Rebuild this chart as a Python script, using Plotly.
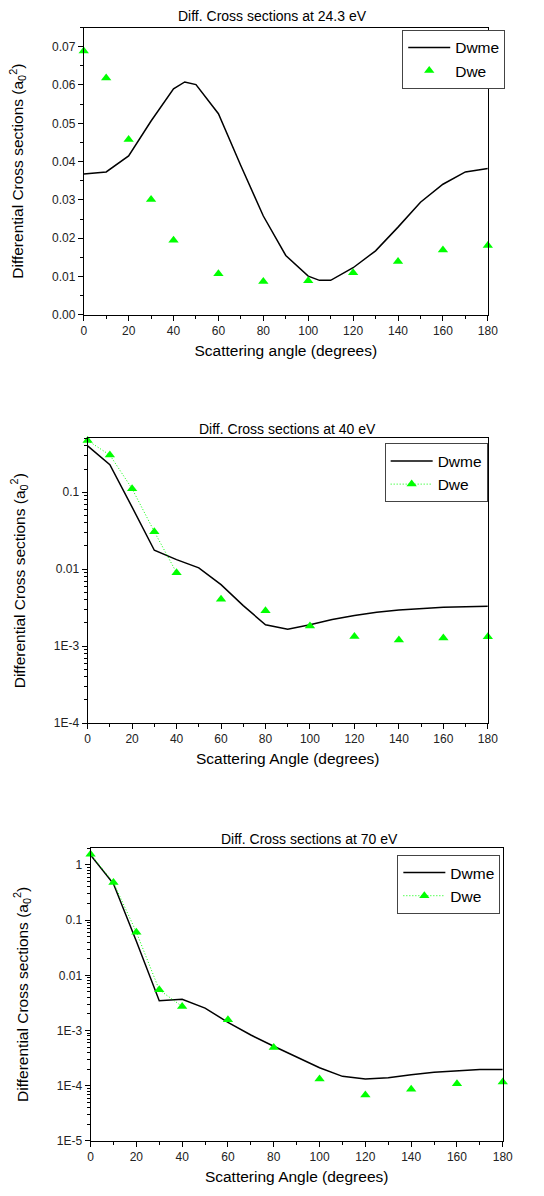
import plotly.graph_objects as go

# ---- data -------------------------------------------------------------
# 24.3 eV
ang_me_1 = [0, 10, 20, 30, 40, 45, 50, 60, 70, 80, 90, 100, 105, 110, 120, 130, 140, 150, 160, 170, 180]
dwme_1 = [0.0368, 0.0373, 0.0415, 0.0506, 0.0590, 0.0608, 0.0601, 0.0525, 0.0389, 0.0258, 0.0155,
          0.0101, 0.0090, 0.0090, 0.0123, 0.0167, 0.0229, 0.0294, 0.0341, 0.0373, 0.0382]
ang_we = [0, 10, 20, 30, 40, 60, 80, 100, 120, 140, 160, 180]
dwe_1 = [0.0689, 0.0618, 0.0458, 0.0301, 0.0195, 0.0107, 0.0087, 0.0089, 0.0110, 0.0139, 0.0169, 0.0181]

# 40 eV
ang_me = [0, 10, 20, 30, 40, 50, 60, 70, 80, 90, 100, 110, 120, 130, 140, 150, 160, 170, 180]
dwme_2 = [0.40, 0.228, 0.064, 0.0176, 0.0133, 0.0104, 0.0063, 0.00336, 0.00189, 0.00166, 0.00189,
          0.00221, 0.00249, 0.00275, 0.00295, 0.00310, 0.00319, 0.00325, 0.00329]
dwe_2 = [0.47, 0.304, 0.111, 0.0307, 0.00898, 0.00406, 0.00289, 0.00182, 0.00133, 0.00120, 0.00127, 0.00132]

# 70 eV
dwme_3 = [1.51, 0.455, 0.0416, 0.00346, 0.0037, 0.00255, 0.00141, 0.00083, 0.00052, 0.00033, 0.000212,
          0.000148, 0.000133, 0.00014, 0.000159, 0.000175, 0.000187, 0.000198, 0.000198]
dwe_3 = [1.56, 0.48, 0.0605, 0.00546, 0.00273, 0.00157, 0.000493, 0.000133, 0.0000683, 0.0000863,
         0.000109, 0.000117]

# number of leading Dwe points joined by the dotted line
n_joined = 5

titles = ["Diff. Cross sections at 24.3 eV", "Diff. Cross sections at 40 eV", "Diff. Cross sections at 70 eV"]
xtitles = ["Scattering angle (degrees)", "Scattering Angle (degrees)", "Scattering Angle (degrees)"]
ytitle = "Differential Cross sections (a<sub>0</sub><sup>2</sup>)"
log_vals_2 = [1e-4, 1e-3, 1e-2, 1e-1]
log_text_2 = ["1E-4", "1E-3", "0.01", "0.1"]
log_vals_3 = [1e-5, 1e-4, 1e-3, 1e-2, 1e-1, 1]
log_text_3 = ["1E-5", "1E-4", "1E-3", "0.01", "0.1", "1"]

# ---- styling -------------------------------------------------------------
W, H = 544, 1196
FONT = "Liberation Sans, Arial, sans-serif"
GREEN = "#00FF00"


def px(x):
    return x / W


def py(y):
    return 1 - y / H


fig = go.Figure()

# panel 1 (linear)
fig.add_trace(go.Scatter(x=ang_me_1, y=dwme_1, mode="lines", name="Dwme",
                         line=dict(color="black", width=1.5), xaxis="x", yaxis="y", legend="legend"))
fig.add_trace(go.Scatter(x=ang_we, y=dwe_1, mode="markers", name="Dwe", cliponaxis=False,
                         marker=dict(symbol="triangle-up", size=9, color=GREEN),
                         xaxis="x", yaxis="y", legend="legend"))

# panels 2 and 3 (log)
for i, (me, we) in enumerate([(dwme_2, dwe_2), (dwme_3, dwe_3)], start=2):
    xa, ya, lg = f"x{i}", f"y{i}", f"legend{i}"
    fig.add_trace(go.Scatter(x=ang_me, y=me, mode="lines", name="Dwme",
                             line=dict(color="black", width=1.5), xaxis=xa, yaxis=ya, legend=lg))
    fig.add_trace(go.Scatter(x=ang_we[:n_joined], y=we[:n_joined], mode="lines+markers", name="Dwe",
                             cliponaxis=False,
                             line=dict(color=GREEN, width=1, dash="1px,2px"),
                             marker=dict(symbol="triangle-up", size=9, color=GREEN),
                             xaxis=xa, yaxis=ya, legend=lg))
    fig.add_trace(go.Scatter(x=ang_we[n_joined:], y=we[n_joined:], mode="markers", name="Dwe",
                             cliponaxis=False, showlegend=False,
                             marker=dict(symbol="triangle-up", size=9, color=GREEN),
                             xaxis=xa, yaxis=ya, legend=lg))

# plot boxes (pixels): left, right, top, bottom
boxes = [(82.7, 496.7, 27.7, 316.7), (86.7, 496.7, 441.0, 727.3), (89.7, 512.0, 852.7, 1147.7)]
title_pos = [(276, 15.7), (291, 432), (314, 843.5)]
legend_pos = [(409, 30), (391, 446), (404, 860)]

axis_common = dict(showline=True, linecolor="black", linewidth=1, mirror=True, showgrid=False,
                   zeroline=False, ticks="outside", ticklen=5, tickwidth=1, tickcolor="black",
                   tickfont=dict(family=FONT, size=12, color="#222"))

layout = dict(width=W, height=H, margin=dict(l=0, r=0, t=0, b=0),
              paper_bgcolor="white", plot_bgcolor="white",
              font=dict(family=FONT, color="black"), annotations=[])

for i, (l, r, t, b) in enumerate(boxes, start=1):
    sfx = "" if i == 1 else str(i)
    xa = dict(axis_common, domain=[px(l), px(r)], range=[0, 180], dtick=20, tick0=0,
              anchor="y" + sfx,
              minor=dict(ticks="outside", ticklen=3, dtick=10, tickcolor="black", showgrid=False),
              title=dict(text=xtitles[i - 1], font=dict(family=FONT, size=15.5, color="black"), standoff=7))
    ya = dict(axis_common, domain=[py(b), py(t)], anchor="x" + sfx,
              title=dict(text=ytitle, font=dict(family=FONT, size=15.5, color="black"), standoff=24))
    if i == 1:
        ya.update(range=[0, 0.075], dtick=0.01, tick0=0, tickformat=".2f",
                  minor=dict(ticks="outside", ticklen=3, dtick=0.005, tickcolor="black", showgrid=False))
    elif i == 2:
        ya.update(type="log", range=[-4, -0.301], tickvals=log_vals_2, ticktext=log_text_2,
                  minor=dict(ticks="outside", ticklen=3, dtick="D1", tickcolor="black", showgrid=False))
    else:
        ya.update(type="log", range=[-5, 0.312], tickvals=log_vals_3, ticktext=log_text_3,
                  minor=dict(ticks="outside", ticklen=3, dtick="D1", tickcolor="black", showgrid=False))
    layout["xaxis" + sfx] = xa
    layout["yaxis" + sfx] = ya

    tx, ty = title_pos[i - 1]
    layout["annotations"].append(dict(text=titles[i - 1], x=px(tx), y=py(ty), xref="paper", yref="paper",
                                      xanchor="center", yanchor="middle", showarrow=False,
                                      font=dict(family=FONT, size=14, color="black")))

    lx, ly = legend_pos[i - 1]
    layout["legend" + sfx] = dict(x=px(lx), y=py(ly), xanchor="left", yanchor="top",
                                  bgcolor="white", bordercolor="#444", borderwidth=1,
                                  font=dict(family=FONT, size=15.5, color="black"),
                                  tracegroupgap=0, itemwidth=42)

fig.update_layout(**layout)
fig.write_html("out.html")
